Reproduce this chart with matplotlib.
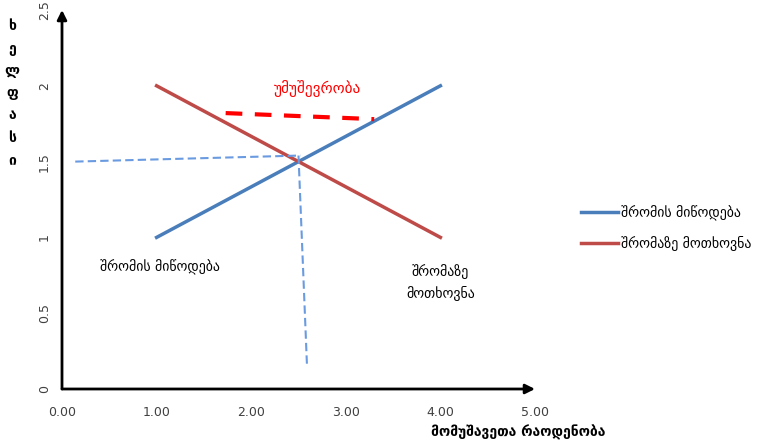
import matplotlib.pyplot as plt

plt.rcParams['font.family'] = ['DejaVu Sans']

# მონაცემები
supply_x = [1.0, 4.0]
supply_y = [1.0, 2.0]
demand_x = [1.0, 4.0]
demand_y = [2.0, 1.0]

unemp_x = [1.73, 3.30]
unemp_y = [1.82, 1.78]

guide_h_x = [0.14, 2.52]
guide_h_y = [1.50, 1.54]
guide_v_x = [2.50, 2.59]
guide_v_y = [1.54, 0.15]

x_ticks = [0, 1, 2, 3, 4, 5]
y_ticks = [0, 0.5, 1, 1.5, 2, 2.5]

fig = plt.figure(figsize=(7.68, 4.45), dpi=100)
ax = fig.add_axes([62 / 768, 56 / 445, 473 / 768, 379 / 445])

ax.plot(supply_x, supply_y, color="#4A7EBB", lw=2.5, label="შრომის მიწოდება")
ax.plot(demand_x, demand_y, color="#BE4B48", lw=2.5, label="შრომაზე მოთხოვნა")
ax.plot(unemp_x, unemp_y, color="#FF0000", lw=3, ls=(0, (4, 3)))
ax.plot(guide_h_x, guide_h_y, color="#6A9BE0", lw=1.5, ls=(0, (4, 2)))
ax.plot(guide_v_x, guide_v_y, color="#6A9BE0", lw=1.5, ls=(0, (4, 2)))

ax.text(2.70, 1.98, "უმუშევრობა", color="#FF0000", fontsize=11, ha="center", va="center")
ax.text(1.04, 0.80, "შრომის მიწოდება", fontsize=10, ha="center", va="center")
ax.text(4.0, 0.70, "შრომაზე\nმოთხოვნა", fontsize=10, ha="center", va="center",
        linespacing=1.6)

ax.set_xlim(0, 5)
ax.set_ylim(0, 2.5)
ax.set_xticks(x_ticks)
ax.set_xticklabels([f"{v:.2f}" for v in x_ticks])
ax.set_yticks(y_ticks)
ax.set_yticklabels([f"{v:g}" for v in y_ticks], rotation=90, va="center")
ax.tick_params(length=0, labelsize=9, colors="#404040", pad=8)
ax.tick_params(axis="x", pad=12)

for s in ax.spines.values():
    s.set_visible(False)

# ისრიანი ღერძები
ax.annotate("", xy=(1.0, 0), xytext=(0, 0), xycoords="axes fraction",
            arrowprops=dict(arrowstyle="-|>", color="black", lw=2, mutation_scale=14,
                            shrinkA=0, shrinkB=0))
ax.annotate("", xy=(0, 1.0), xytext=(0, 0), xycoords="axes fraction",
            arrowprops=dict(arrowstyle="-|>", color="black", lw=2, mutation_scale=14,
                            shrinkA=0, shrinkB=0))

fig.text(518 / 768, 1 - 432 / 445, "მომუშავეთა რაოდენობა", fontsize=10, fontweight="bold",
         ha="center", va="center")
# ვერტიკალური, ასო-ასო დაწყობილი წარწერა
fig.text(12 / 768, 1 - 93 / 445, "\n".join("ხელფასი"), fontsize=10, fontweight="bold",
         ha="center", va="center", linespacing=1.75)

fig.legend(loc="center left", bbox_to_anchor=(568 / 768, 1 - 228 / 445), frameon=False,
           fontsize=10, handlelength=2.7, handletextpad=0.2, labelspacing=1.1)

fig.savefig("out.png", dpi=100)
